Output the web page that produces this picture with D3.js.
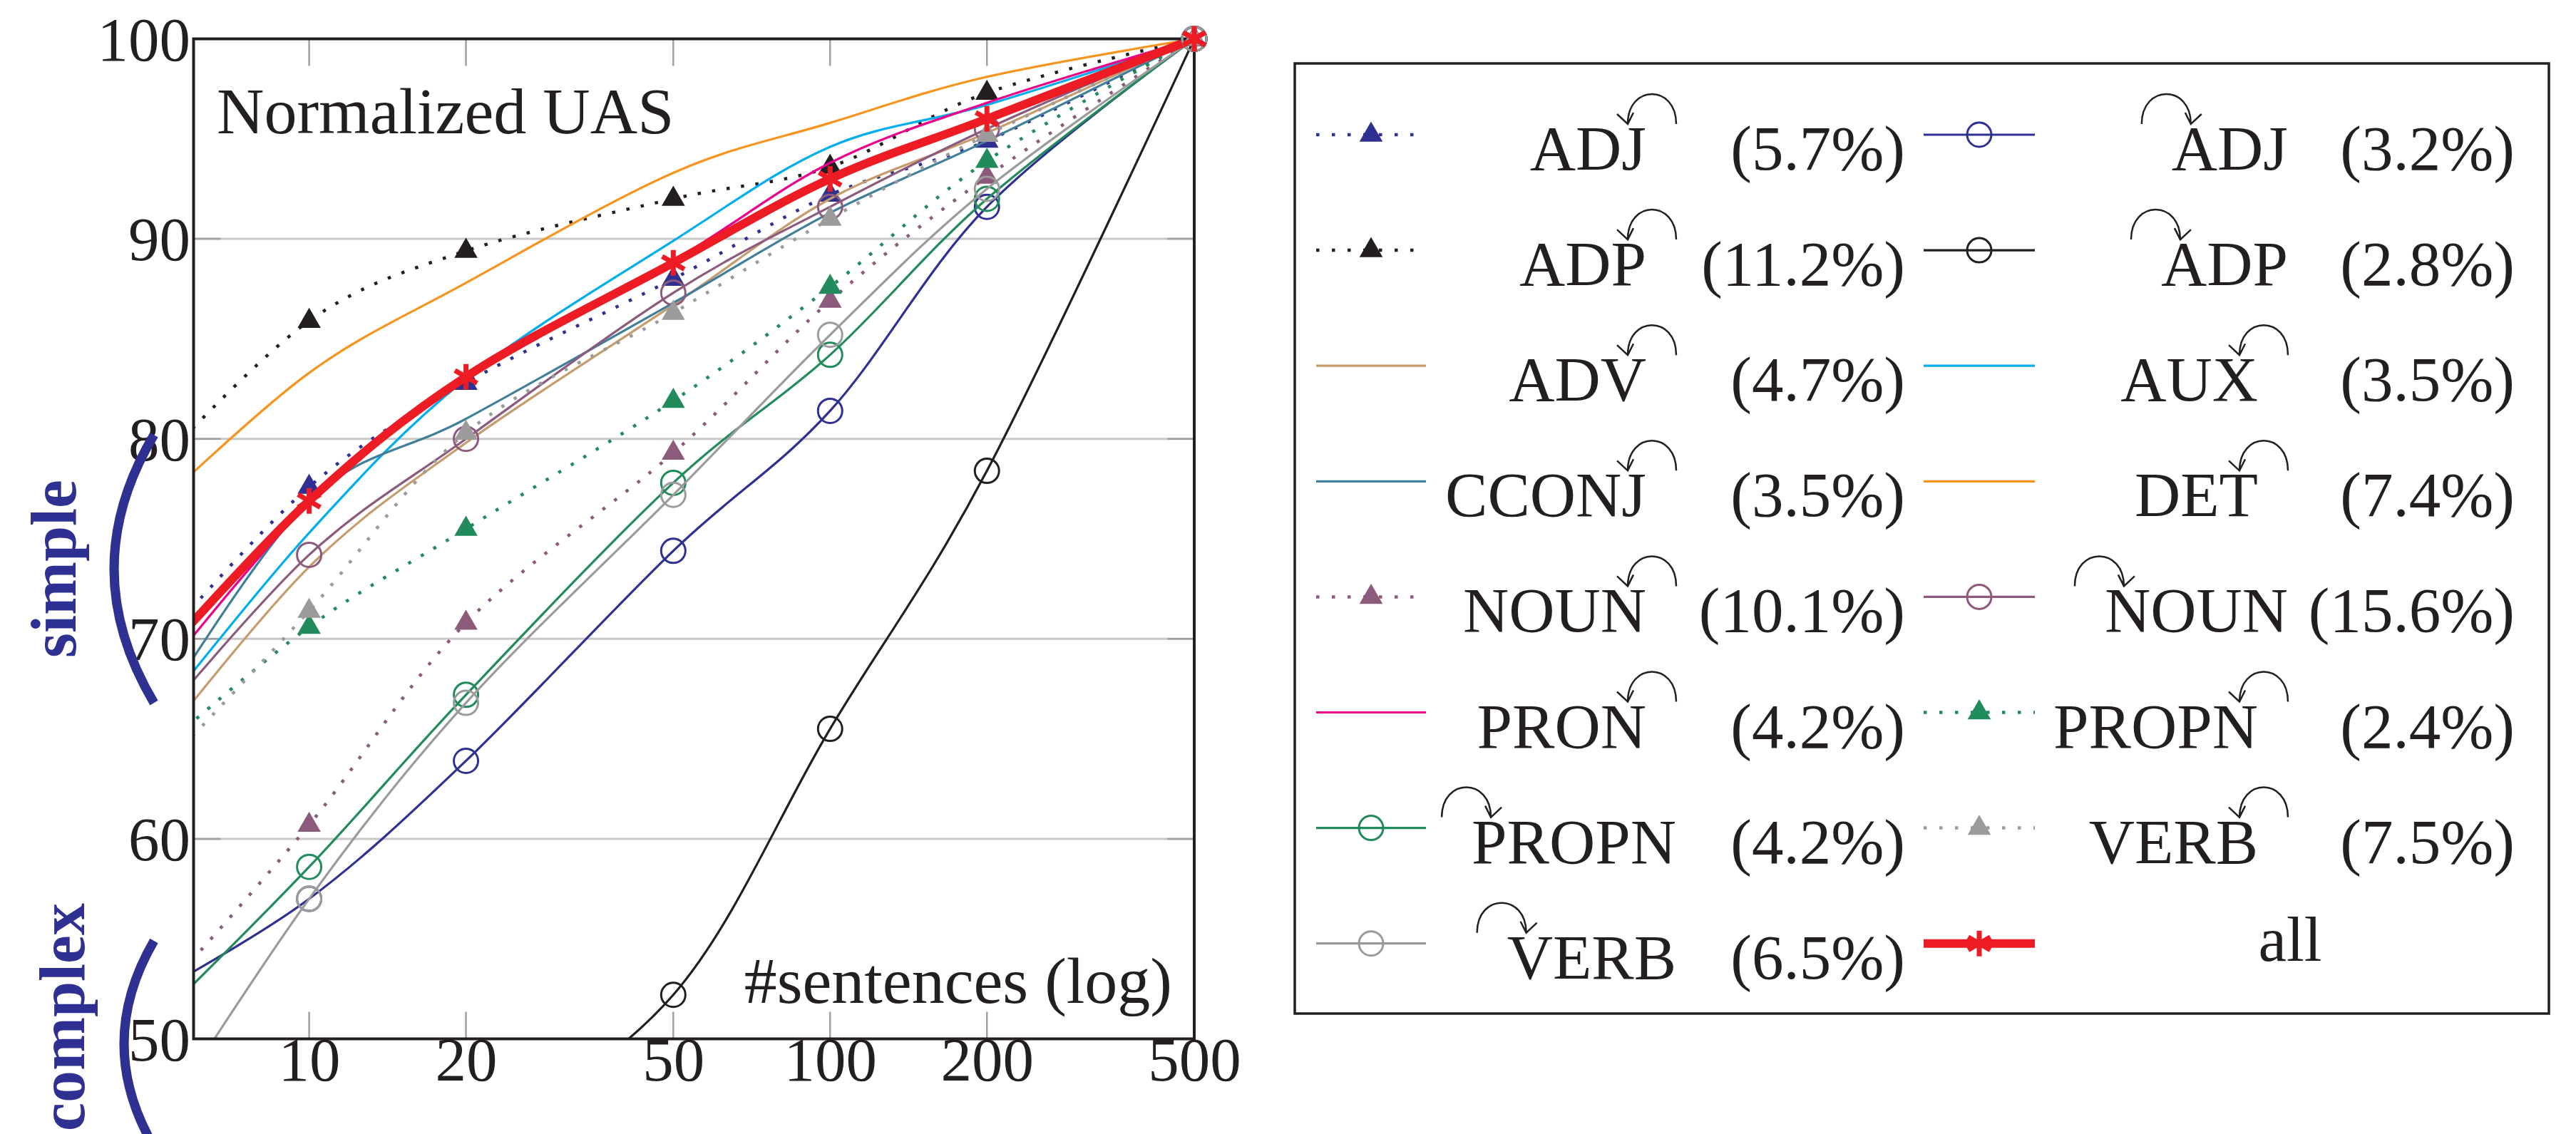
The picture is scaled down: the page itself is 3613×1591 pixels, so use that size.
<!DOCTYPE html>
<html>
<head>
<meta charset="utf-8">
<script src="https://cdn.jsdelivr.net/npm/d3@7"></script>
<style>
  body { margin: 0; background: #fff; }
  text { font-family: "Liberation Serif", "Times New Roman", serif; fill: #231f20; }
</style>
</head>
<body>
<svg id="chart"></svg>
<script>
// #sentences (x) and normalized UAS per series
var sentences = [5, 10, 20, 50, 100, 200, 500];

var adjLeft    = [69.3, 77.6, 82.8, 88.0, 92.2, 94.9, 100];
var adjRight   = [52.2, 57.0, 63.9, 74.4, 81.4, 91.6, 100];
var adpLeft    = [78.4, 85.9, 89.4, 92.0, 93.6, 97.3, 100];
var adpRight   = [37.0, 40.5, 44.5, 52.2, 65.5, 78.4, 100];
var adv        = [64.3, 73.6, 79.8, 86.7, 92.0, 95.3, 100];
var aux        = [65.8, 75.3, 83.0, 89.9, 94.6, 96.7, 100];
var cconj      = [65.8, 76.9, 81.0, 86.8, 91.3, 94.9, 100];
var det        = [76.4, 83.3, 87.8, 93.3, 95.8, 98.1, 100];
var nounLeft   = [51.7, 60.7, 70.8, 79.3, 86.9, 93.1, 100];
var nounRight  = [65.5, 74.2, 80.0, 87.3, 91.6, 95.5, 100];
var pron       = [67.6, 76.8, 83.1, 88.9, 93.8, 96.8, 100];
var propnLeft  = [64.1, 70.6, 75.5, 81.9, 87.6, 93.9, 100];
var propnRight = [50.7, 58.6, 67.2, 77.8, 84.2, 92.0, 100];
var verbLeft   = [63.0, 71.4, 80.3, 86.3, 91.0, 95.2, 100];
var verbRight  = [45.2, 57.0, 66.8, 77.2, 85.2, 92.5, 100];
var all        = [68.6, 76.9, 83.1, 88.8, 93.0, 96.0, 100];

var xTicks = [10, 20, 50, 100, 200, 500];
var yTicks = [50, 60, 70, 80, 90, 100];

// legend order (row by row, two columns)
var seriesNames  = ["ADJ", "ADJ", "ADP", "ADP", "ADV", "AUX", "CCONJ", "DET",
                    "NOUN", "NOUN", "PRON", "PROPN", "PROPN", "VERB", "VERB", "all"];
var seriesShares = ["5.7%", "3.2%", "11.2%", "2.8%", "4.7%", "3.5%", "3.5%", "7.4%",
                    "10.1%", "15.6%", "4.2%", "2.4%", "4.2%", "7.5%", "6.5%", ""];
var seriesValues = [adjLeft, adjRight, adpLeft, adpRight, adv, aux, cconj, det,
                    nounLeft, nounRight, pron, propnLeft, propnRight, verbLeft, verbRight, all];
var seriesColors = ["#2e3192", "#2e3192", "#231f20", "#231f20", "#c69c6d", "#00aeef", "#3f7f99", "#f7941d",
                    "#8c5a7c", "#8c5a7c", "#ec008c", "#228b5b", "#228b5b", "#9b9b9b", "#9b9b9b", "#ed1c24"];
var seriesMarks  = ["triangle", "circle", "triangle", "circle", "none", "none", "none", "none",
                    "triangle", "circle", "none", "triangle", "circle", "triangle", "circle", "asterisk"];
var seriesArrows = ["after", "before", "after", "before", "after", "after", "after", "after",
                    "after", "before", "after", "after", "before", "after", "before", "none"];

var width = 3613, height = 1591;
var plot = {left: 271.5, right: 1675, top: 54.5, bottom: 1457.5};
var ink = "#231f20";

var svg = d3.select("#chart").attr("width", width).attr("height", height);

var xScale = d3.scaleLog().domain([6, 500]).range([plot.left, plot.right]);
var yScale = d3.scaleLinear().domain([50, 100]).range([plot.bottom, plot.top]);

svg.append("defs").append("clipPath")
    .attr("id", "plotClip")
  .append("rect")
    .attr("x", plot.left)
    .attr("y", plot.top)
    .attr("width", plot.right - plot.left)
    .attr("height", plot.bottom - plot.top);

// horizontal grid
var inner = yTicks.filter(d => d > 50 && d < 100);
svg.append("g").selectAll("line")
    .data(inner)
    .enter()
    .append("line")
    .attr("x1", plot.left)
    .attr("x2", plot.right)
    .attr("y1", d => yScale(d))
    .attr("y2", d => yScale(d))
    .attr("stroke", "#c8c8c8")
    .attr("stroke-width", 3);

// small tick marks on the frame
var tickLen = 38;
var tickGroup = svg.append("g").attr("stroke", "#a0a0a0").attr("stroke-width", 2.5);
inner.forEach(function(v) {
    tickGroup.append("line").attr("x1", plot.left).attr("x2", plot.left + tickLen)
        .attr("y1", yScale(v)).attr("y2", yScale(v));
    tickGroup.append("line").attr("x1", plot.right - tickLen).attr("x2", plot.right)
        .attr("y1", yScale(v)).attr("y2", yScale(v));
});
xTicks.filter(d => d < 500).forEach(function(v) {
    tickGroup.append("line").attr("x1", xScale(v)).attr("x2", xScale(v))
        .attr("y1", plot.top).attr("y2", plot.top + tickLen);
    tickGroup.append("line").attr("x1", xScale(v)).attr("x2", xScale(v))
        .attr("y1", plot.bottom - tickLen).attr("y2", plot.bottom);
});

// axis labels through d3 axes
var leftAxis = d3.axisLeft(yScale).tickValues(yTicks).tickSize(0).tickPadding(4.5);
var yAxisG = svg.append("g")
    .attr("transform", `translate(${plot.left}, 0)`)
    .call(leftAxis);
yAxisG.select(".domain").remove();
yAxisG.selectAll("text")
    .attr("font-size", 87)
    .attr("dy", "0.34em")
    .style("font-family", "'Liberation Serif', serif")
    .attr("fill", ink);

var bottomAxis = d3.axisBottom(xScale).tickValues(xTicks).tickFormat(d3.format("d")).tickSize(0);
var xAxisG = svg.append("g")
    .attr("transform", `translate(0, ${plot.bottom})`)
    .call(bottomAxis);
xAxisG.select(".domain").remove();
xAxisG.selectAll("text")
    .attr("font-size", 87)
    .attr("y", 58.5)
    .attr("dy", null)
    .style("font-family", "'Liberation Serif', serif")
    .attr("fill", ink);

// series
var lineGen = d3.line()
    .x(d => xScale(d[0]))
    .y(d => yScale(d[1]))
    .curve(d3.curveCardinal.tension(0));

function markPath(kind) {
    if (kind === "triangle") return "M0,-17L15,9L-15,9Z";
    if (kind === "asterisk") {
        var r = 18, c = Math.cos(Math.PI / 6) * r, s = Math.sin(Math.PI / 6) * r;
        return `M0,${-r}L0,${r}M${-c},${-s}L${c},${s}M${-c},${s}L${c},${-s}`;
    }
    return "";
}

function drawMark(g, kind, color, cx, cy) {
    if (kind === "circle") {
        g.append("circle").attr("cx", cx).attr("cy", cy).attr("r", 17)
            .attr("fill", "none").attr("stroke", color).attr("stroke-width", 3);
    }
    else if (kind === "triangle") {
        g.append("path").attr("d", markPath(kind))
            .attr("transform", `translate(${cx},${cy})`)
            .attr("fill", color).attr("stroke", color).attr("stroke-width", 1.5);
    }
    else if (kind === "asterisk") {
        g.append("path").attr("d", markPath(kind))
            .attr("transform", `translate(${cx},${cy})`)
            .attr("fill", "none").attr("stroke", color).attr("stroke-width", 7);
    }
}

function styleLine(sel, i) {
    var kind = seriesMarks[i];
    sel.attr("fill", "none").attr("stroke", seriesColors[i]);
    if (kind === "triangle") {
        sel.attr("stroke-width", 4.5).attr("stroke-dasharray", "4.5 16");
    }
    else if (kind === "asterisk") {
        sel.attr("stroke-width", 12);
    }
    else {
        sel.attr("stroke-width", 3.2);
    }
    return sel;
}

seriesValues.forEach(function(vals, i) {
    var pts = sentences.map((s, k) => [s, vals[k]]);
    var g = svg.append("g");
    g.append("path")
        .attr("clip-path", "url(#plotClip)")
        .attr("d", lineGen(pts))
        .call(styleLine, i);
    pts.filter(p => p[0] >= 10 && p[1] >= 50).forEach(function(p) {
        drawMark(g, seriesMarks[i], seriesColors[i], xScale(p[0]), yScale(p[1]));
    });
});

// frame
svg.append("rect")
    .attr("x", plot.left)
    .attr("y", plot.top)
    .attr("width", plot.right - plot.left)
    .attr("height", plot.bottom - plot.top)
    .attr("fill", "none")
    .attr("stroke", ink)
    .attr("stroke-width", 4);

// redraw the markers at 500 above the frame
seriesValues.forEach(function(vals, i) {
    drawMark(svg.append("g"), seriesMarks[i], seriesColors[i], xScale(500), yScale(vals[vals.length - 1]));
});

svg.append("text")
    .attr("x", 304)
    .attr("y", 186.6)
    .attr("font-size", 92)
    .text("Normalized UAS");

svg.append("text")
    .attr("x", 1644)
    .attr("y", 1407)
    .attr("font-size", 92)
    .attr("text-anchor", "end")
    .text("#sentences (log)");

// simple / complex brackets
var blue = "#2e3192";
function bracket(yTop, yBot, leftX) {
    var ym = (yTop + yBot) / 2;
    var c = 2 * leftX - 216;
    return `M216,${yTop}Q${c},${ym} 216,${yBot}`;
}
svg.append("path")
    .attr("d", bracket(yScale(80.2), yScale(66.8), 160))
    .attr("fill", "none")
    .attr("stroke", blue)
    .attr("stroke-width", 13);
svg.append("path")
    .attr("d", bracket(yScale(54.9), yScale(44.6), 174))
    .attr("fill", "none")
    .attr("stroke", blue)
    .attr("stroke-width", 13);

svg.append("text")
    .attr("transform", `translate(106, ${yScale(73.5)}) rotate(-90)`)
    .attr("text-anchor", "middle")
    .attr("font-size", 90)
    .attr("font-weight", "bold")
    .style("fill", blue)
    .text("simple");

svg.append("text")
    .attr("transform", "translate(118, 1267) rotate(-90)")
    .attr("text-anchor", "end")
    .attr("font-size", 90)
    .attr("font-weight", "bold")
    .style("fill", blue)
    .text("complex");

// legend
var legend = svg.append("g");
legend.append("rect")
    .attr("x", 1816)
    .attr("y", 89)
    .attr("width", 1759)
    .attr("height", 1333)
    .attr("fill", "#fff")
    .attr("stroke", ink)
    .attr("stroke-width", 3.5);

var cols = [
    {x0: 1846, x1: 2000, mark: 1923, cellRight: 2351, pctRight: 2672},
    {x0: 2698, x1: 2854, mark: 2776, cellRight: 3209, pctRight: 3527}
];
var rowStart = 189, rowStep = 162.1;

function arrowPath(side, tl, tr, yb) {
    var hx, ex, arms;
    if (side === "after") {
        hx = tr - 26; ex = tr + 42;
        arms = `M${hx - 15},${yb - 14}L${hx},${yb}L${hx + 8},${yb - 16}`;
    }
    else {
        hx = tl + 27; ex = tl - 42;
        arms = `M${hx + 15},${yb - 14}L${hx},${yb}L${hx - 8},${yb - 16}`;
    }
    return `M${ex},${yb}C${ex},${yb - 56} ${hx},${yb - 56} ${hx},${yb}` + arms;
}

seriesNames.forEach(function(name, i) {
    var col = cols[i % 2];
    var rowY = rowStart + Math.floor(i / 2) * rowStep;
    var g = legend.append("g");

    var sample = g.append("line")
        .attr("x1", col.x0).attr("x2", col.x1)
        .attr("y1", rowY).attr("y2", rowY)
        .call(styleLine, i);
    if (seriesMarks[i] === "triangle") sample.attr("stroke-dasharray", "4.5 17.5");
    drawMark(g, seriesMarks[i], seriesColors[i], col.mark, rowY);

    if (seriesArrows[i] === "none") {
        g.append("text")
            .attr("x", 3212)
            .attr("y", rowY + 24)
            .attr("text-anchor", "middle")
            .attr("font-size", 89)
            .text(name);
        return;
    }

    var right = seriesArrows[i] === "after" ? col.cellRight - 42 : col.cellRight;
    var label = g.append("text")
        .attr("x", right)
        .attr("y", rowY + 49)
        .attr("text-anchor", "end")
        .attr("font-size", 89)
        .text(name);
    var w = label.node().getComputedTextLength();

    g.append("path")
        .attr("d", arrowPath(seriesArrows[i], right - w, right, rowY - 15))
        .attr("fill", "none")
        .attr("stroke", ink)
        .attr("stroke-width", 2.5);

    g.append("text")
        .attr("x", col.pctRight)
        .attr("y", rowY + 49)
        .attr("text-anchor", "end")
        .attr("font-size", 89)
        .text(`(${seriesShares[i]})`);
});
</script>
</body>
</html>
